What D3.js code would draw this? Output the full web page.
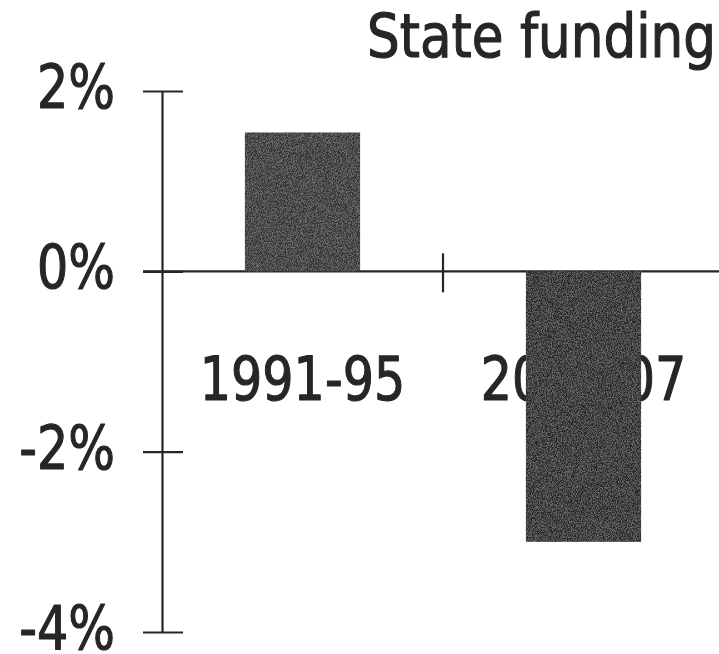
<!DOCTYPE html>
<html>
<head>
<meta charset="utf-8">
<script src="https://cdn.jsdelivr.net/npm/d3@7"></script>
<style>
  html, body { margin: 0; padding: 0; background: #ffffff; }
  svg { display: block; }
  text { font-family: "DejaVu Sans", sans-serif; fill: #262626; stroke: #262626; stroke-width: 1.2px; stroke-linejoin: round; }
</style>
</head>
<body>
<svg id="chart" width="719" height="654"></svg>
<script>
// Annual change in state funding by period
const categories = ["1991-95", "2001-07"];
const values = [1.54, -3.0];
const barColors = ["#333333", "#252525"];
const yTicks = [2, 0, -2, -4];
const yTickLabels = ["2%", "0%", "-2%", "-4%"];
const title = "State funding";

const W = 719, H = 654;
const fontSize = 60;
const squeeze = 0.82;          // horizontal text compression
const ink = "#262626";

const svg = d3.select("#chart");

// Scales
const y = d3.scaleLinear().domain([-4, 2]).range([632, 91]);
const xBand = d3.scaleBand().domain(categories).range([162, 724]); // category slots
const xBar = d3.scaleBand().domain(categories).range([162, 724])
  .paddingInner(0.59).paddingOuter(0.295);

// Fine grain for the bar fills
const defs = svg.append("defs");
const grain = defs.append("filter").attr("id", "grain")
  .attr("x", 0).attr("y", 0).attr("width", 1).attr("height", 1);
grain.append("feTurbulence").attr("type", "fractalNoise")
  .attr("baseFrequency", 1.2).attr("numOctaves", 1).attr("seed", 3).attr("result", "noise");
grain.append("feColorMatrix").attr("in", "noise").attr("type", "matrix")
  .attr("values", "0 0 0 0 1  0 0 0 0 1  0 0 0 0 1  0.45 0 0 0 -0.18").attr("result", "specks");
grain.append("feComposite").attr("in", "specks").attr("in2", "SourceGraphic")
  .attr("operator", "in").attr("result", "clipped");
grain.append("feBlend").attr("in", "clipped").attr("in2", "SourceGraphic").attr("mode", "screen");

// Text helper: compressed horizontally around its anchor point
function label(g, str, x, yPos, anchor, sx = squeeze) {
  return g.append("text")
    .attr("transform", `translate(${x},${yPos}) scale(${sx},1)`)
    .attr("text-anchor", anchor)
    .attr("font-size", fontSize)
    .text(str);
}

// Title
label(svg, title, 367, 57, "start", 0.86);

// Y axis: vertical domain line plus ticks crossing it
const yAxis = d3.axisLeft(y).tickValues(yTicks).tickSizeInner(0).tickSizeOuter(0)
  .tickFormat((d, i) => yTickLabels[i]);
const yAxisG = svg.append("g").attr("transform", "translate(162,0)").call(yAxis);
yAxisG.select(".domain").attr("stroke", ink).attr("stroke-width", 2.2);
yAxisG.selectAll(".tick line")
  .attr("x1", -19).attr("x2", 21)
  .attr("stroke", ink).attr("stroke-width", 2.2);
yAxisG.selectAll(".tick text").remove();
yTicks.forEach((t, i) => label(svg, yTickLabels[i], 115, y(t) + 17, "end"));

// Zero baseline and category divider
svg.append("line")
  .attr("x1", 143).attr("x2", W)
  .attr("y1", y(0)).attr("y2", y(0))
  .attr("stroke", ink).attr("stroke-width", 2.2);
svg.append("line")
  .attr("x1", xBand(categories[1])).attr("x2", xBand(categories[1]))
  .attr("y1", y(0) - 18).attr("y2", y(0) + 21)
  .attr("stroke", ink).attr("stroke-width", 2.2);

// Category labels (drawn beneath the bars)
categories.forEach(c => label(svg, c, xBand(c) + xBand.bandwidth() / 2, 400, "middle"));

// Bars
svg.append("g").selectAll("rect")
  .data(values)
  .join("rect")
  .attr("x", (d, i) => xBar(categories[i]))
  .attr("width", xBar.bandwidth())
  .attr("y", d => y(Math.max(0, d)))
  .attr("height", d => Math.abs(y(d) - y(0)))
  .attr("fill", (d, i) => barColors[i])
  .attr("filter", "url(#grain)");
</script>
</body>
</html>
